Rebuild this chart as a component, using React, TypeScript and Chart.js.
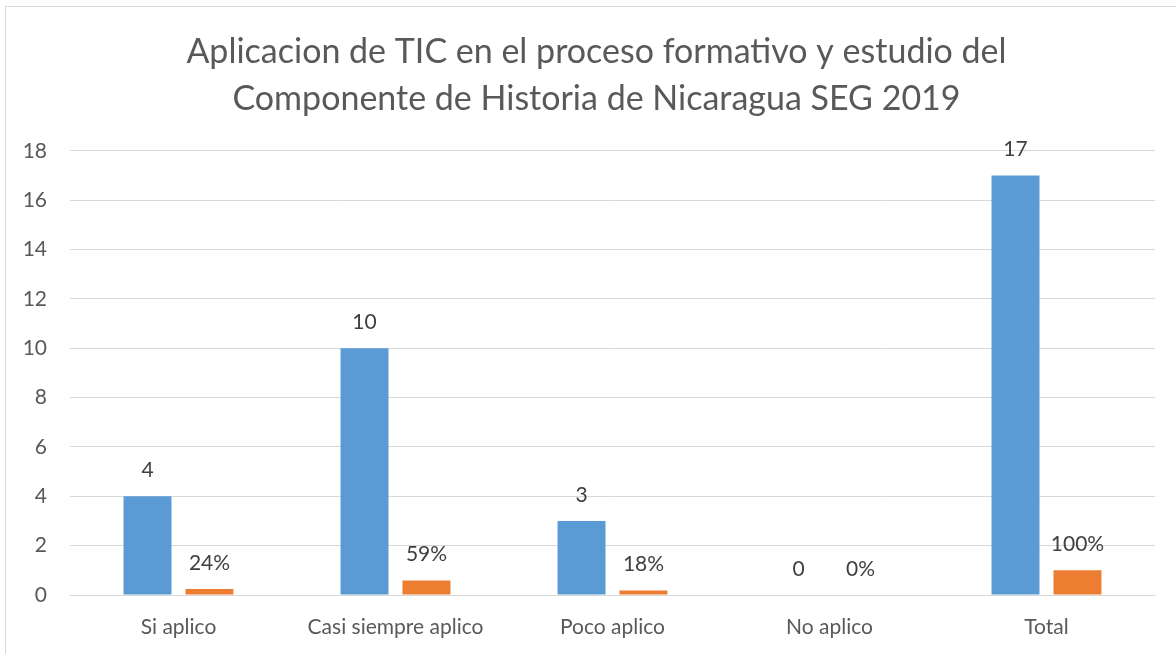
import React, { useEffect, useRef } from "react";
import { Chart, registerables } from "chart.js";

Chart.register(...registerables);

const categories = ["Si aplico", "Casi siempre aplico", "Poco aplico", "No aplico", "Total"];
const counts = [4, 10, 3, 0, 17];
const shares = [0.24, 0.59, 0.18, 0, 1];
const shareLabels = ["24%", "59%", "18%", "0%", "100%"];
const yTicks = [0, 2, 4, 6, 8, 10, 12, 14, 16, 18];
const titleLines = [
  "Aplicacion de TIC en el proceso formativo y estudio del",
  "Componente de Historia de Nicaragua SEG 2019",
];

const FONT = "Lato, 'Open Sans', sans-serif";
const TEXT = "#595959";
const TITLE_SIZE = 34;
const TITLE_LH = 1.38;
const TITLE_PAD_TOP = 9;

const valueLabels = {
  id: "valueLabels",
  afterDatasetsDraw(chart: any) {
    const ctx = chart.ctx;
    ctx.save();
    ctx.font = `21px ${FONT}`;
    ctx.fillStyle = "#404040";
    ctx.textAlign = "center";
    ctx.textBaseline = "middle";
    chart.data.datasets.forEach((ds: any, di: number) => {
      const meta = chart.getDatasetMeta(di);
      meta.data.forEach((bar: any, i: number) => {
        const text = di === 0 ? String(counts[i]) : shareLabels[i];
        ctx.fillText(text, bar.x, bar.y - 26);
      });
    });
    ctx.restore();
  },
};

// Draws the two-line title centred on the whole chart frame (as in the reference)
const centeredTitle = {
  id: "centeredTitle",
  afterDraw(chart: any) {
    const ctx = chart.ctx;
    const tb = chart.titleBlock;
    const lh = TITLE_SIZE * TITLE_LH;
    ctx.save();
    ctx.font = `${TITLE_SIZE}px ${FONT}`;
    ctx.fillStyle = TEXT;
    ctx.textAlign = "center";
    ctx.textBaseline = "middle";
    const cx = (5 + chart.width + 8) / 2 + 2;
    titleLines.forEach((line, i) => {
      ctx.fillText(line, cx, tb.top + TITLE_PAD_TOP + lh * (i + 0.5));
    });
    ctx.restore();
  },
};

export default function App() {
  const ref = useRef<HTMLCanvasElement>(null);
  useEffect(() => {
    document.body.style.margin = "0";
    const chart = new Chart(ref.current!, {
      type: "bar",
      data: {
        labels: categories,
        datasets: [
          {
            label: "Cantidad",
            data: counts,
            backgroundColor: "#5b9bd5",
            categoryPercentage: 0.571,
            barPercentage: 0.774,
          },
          {
            label: "Porcentaje",
            data: shares,
            backgroundColor: "#ed7d31",
            categoryPercentage: 0.571,
            barPercentage: 0.774,
          },
        ],
      },
      options: {
        animation: false,
        responsive: false,
        maintainAspectRatio: false,
        layout: { padding: { left: 0, right: 21, top: 20, bottom: 0 } },
        plugins: {
          legend: { display: false },
          tooltip: { enabled: false },
          title: {
            display: true,
            text: titleLines,
            color: "rgba(0,0,0,0)",
            font: { family: FONT, size: TITLE_SIZE, weight: "normal", lineHeight: TITLE_LH },
            padding: { top: TITLE_PAD_TOP, bottom: 28 },
          },
        },
        scales: {
          x: {
            grid: { display: false, drawTicks: false },
            border: { display: true, color: "#d9d9d9", width: 1 },
            ticks: {
              color: TEXT,
              font: { family: FONT, size: 21 },
              padding: 20,
              maxRotation: 0,
              minRotation: 0,
              autoSkip: false,
            },
            afterFit: (axis: any) => {
              axis.height = 59;
            },
          },
          y: {
            min: 0,
            max: 18,
            afterBuildTicks: (axis: any) => {
              axis.ticks = yTicks.map((v) => ({ value: v }));
            },
            afterFit: (axis: any) => {
              axis.width = 70;
            },
            grid: { color: "#d9d9d9", drawTicks: false },
            border: { display: false },
            ticks: { color: TEXT, font: { family: FONT, size: 21 }, padding: 23 },
          },
        },
      },
      plugins: [valueLabels, centeredTitle],
    });
    return () => chart.destroy();
  }, []);
  return (
    <div style={{ position: "relative", width: 1176, height: 654, background: "#fff", overflow: "hidden" }}>
      <div
        style={{
          position: "absolute",
          left: 5,
          top: 6,
          width: 1200,
          height: 700,
          border: "1px solid #d9d9d9",
          boxSizing: "border-box",
        }}
      />
      <canvas ref={ref} width={1176} height={654} style={{ position: "absolute", left: 0, top: 0 }} />
    </div>
  );
}
